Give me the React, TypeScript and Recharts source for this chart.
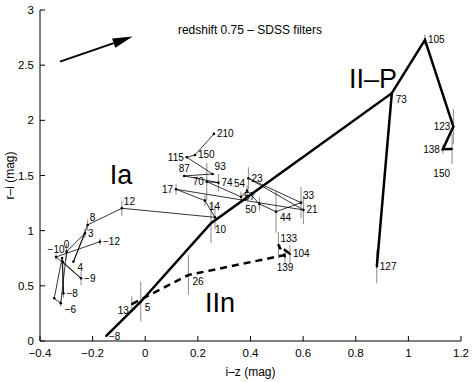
import {
  ScatterChart,
  Scatter,
  XAxis,
  YAxis,
  ErrorBar,
  ReferenceLine,
  ReferenceDot,
} from "recharts";

const FONT = "'Liberation Sans', Arial, Helvetica, sans-serif";

const xTicks = [-0.4, -0.2, 0, 0.2, 0.4, 0.6, 0.8, 1, 1.2];
const yTicks = [0, 0.5, 1, 1.5, 2, 2.5, 3];

// SN Ia track (thin line)
const iaX = [
  -0.172, -0.339, -0.244, -0.314, -0.311, -0.316, -0.346, -0.321, -0.299, -0.229,
  -0.273, -0.219, -0.089, 0.265, 0.227, 0.117, 0.601, 0.392, 0.592, 0.497,
  0.434, 0.387, 0.364, 0.234, 0.278, 0.148, 0.256, 0.158, 0.189, 0.261,
];
const iaY = [
  0.9, 0.762, 0.568, 0.719, 0.432, 0.752, 0.387, 0.342, 0.81, 0.976,
  0.719, 1.052, 1.203, 1.121, 1.272, 1.375, 1.188, 1.475, 1.254, 1.172,
  1.242, 1.363, 1.306, 1.444, 1.435, 1.496, 1.514, 1.665, 1.686, 1.877,
];
const iaErr = [
  0.03, 0.03, 0.06, 0, 0.04, 0, 0, 0.03, 0.07, 0.04,
  0, 0.05, 0.07, 0.11, 0.05, 0.05, 0.13, 0.1, 0.14, 0.19,
  0.06, 0.05, 0.05, 0.17, 0.08, 0, 0, 0, 0, 0,
];
const iaLabels = [
  "−12", "−10", "−9", "", "−8", "", "", "−6", "0", "3",
  "4", "8", "12", "", "14", "17", "21", "23", "33", "44",
  "50", "54", "57", "70", "74", "87", "93", "115", "150", "210",
];

// SN II-P track (thick line)
const iipX = [-0.149, -0.017, 0.25, 0.937, 1.063, 1.171, 1.131, 1.166];
const iipY = [0.045, 0.356, 1.067, 2.246, 2.729, 1.943, 1.738, 1.74];
const iipErr = [0, 0.18, 0.18, 0, 0.05, 0.16, 0.04, 0.14];
const iipLabels = ["−8", "5", "10", "73", "105", "123", "138", "150"];

// second II-P branch
const iip2X = [0.937, 0.88];
const iip2Y = [2.246, 0.674];
const iip2Err = [0, 0.15];
const iip2Labels = ["", "127"];

// SN IIn track (thick dashed)
const iinX = [-0.051, 0.164, 0.55, 0.506, 0.531];
const iinY = [0.335, 0.598, 0.789, 0.87, 0.764];
const iinErr = [0.07, 0.18, 0.08, 0.12, 0.07];
const iinLabels = ["13", "26", "104", "133", "139"];

// label placement, per point
const iaLabelPos = [
  "r", "t", "r", "", "r", "", "", "br", "t", "r",
  "br", "tr", "tr", "", "br", "l", "r", "r", "tr", "br",
  "bl", "tl", "r", "l", "r", "t", "tr", "l", "r", "r",
];
const iipLabelPos = ["r", "br", "br", "br", "r", "l", "l", "low"];
const iip2LabelPos = ["", "r"];
const iinLabelPos = ["bl", "br", "r", "tr", "b"];

const OFFSETS: Record<string, [number, number, string]> = {
  r: [3, 0, "start"],
  l: [-3, 0, "end"],
  t: [0, -7, "middle"],
  b: [0, 11, "middle"],
  tr: [2, -7, "start"],
  br: [4, 6, "start"],
  tl: [-2, -7, "end"],
  bl: [-3, 6, "end"],
  low: [-2, 24, "end"],
};

const table = (xs: number[], ys: number[], errs: number[], labels: string[]) =>
  xs.map((x, i) => ({ x, y: ys[i], err: errs[i], label: labels[i], i }));

const iaData = table(iaX, iaY, iaErr, iaLabels);
const iipData = table(iipX, iipY, iipErr, iipLabels);
const iip2Data = table(iip2X, iip2Y, iip2Err, iip2Labels);
const iinData = table(iinX, iinY, iinErr, iinLabels);

const fmt = (v: number) => String(v).replace("-", "−");

function pointShape(pos: string[], r: number) {
  return (props: any) => {
    const { cx, cy, payload } = props;
    const off = OFFSETS[pos[payload.i]];
    return (
      <g>
        {r > 0 && <circle cx={cx} cy={cy} r={r} fill="#000" />}
        {off && payload.label && (
          <text
            x={cx + off[0]}
            y={cy + off[1]}
            textAnchor={off[2] as any}
            dominantBaseline="central"
            fontSize={10}
            fill="#000"
          >
            {payload.label}
          </text>
        )}
      </g>
    );
  };
}

const TICK = 5;

function BottomTick({ x, y, payload }: any) {
  const axisY = y - 12;
  return (
    <g>
      <line x1={x} x2={x} y1={axisY} y2={axisY - TICK} stroke="#000" />
      <text x={x} y={y} textAnchor="middle" dominantBaseline="central" fontSize={11.5} fill="#000">
        {fmt(payload.value)}
      </text>
    </g>
  );
}

function LeftTick({ x, y, payload }: any) {
  const axisX = x + 6;
  return (
    <g>
      <line x1={axisX} x2={axisX + TICK} y1={y} y2={y} stroke="#000" />
      <text x={x} y={y} textAnchor="end" dominantBaseline="central" fontSize={11.5} fill="#000">
        {fmt(payload.value)}
      </text>
    </g>
  );
}

function TopTick({ x, y }: any) {
  return <line x1={x} x2={x} y1={y} y2={y + TICK} stroke="#000" />;
}

function RightTick({ x, y }: any) {
  return <line x1={x} x2={x - TICK} y1={y} y2={y} stroke="#000" />;
}

function Arrow(props: any) {
  const { x1, y1, x2, y2 } = props;
  const a = Math.atan2(y2 - y1, x2 - x1);
  const len = 20;
  const w = 5;
  const bx = x2 - len * Math.cos(a);
  const by = y2 - len * Math.sin(a);
  const px = -Math.sin(a) * w;
  const py = Math.cos(a) * w;
  return (
    <g>
      <line x1={x1} y1={y1} x2={bx} y2={by} stroke="#000" strokeWidth={2} />
      <polygon points={`${x2},${y2} ${bx + px},${by + py} ${bx - px},${by - py}`} fill="#000" />
    </g>
  );
}

export default function App() {
  return (
    <div style={{ position: "absolute", left: 0, top: 0, fontFamily: FONT, background: "#fff" }}>
      <ScatterChart width={473} height={382} margin={{ top: 10, right: 12, bottom: 0, left: 0 }}>
        <XAxis
          type="number"
          dataKey="x"
          domain={[-0.4, 1.2]}
          ticks={xTicks}
          allowDataOverflow
          height={41}
          tickSize={0}
          tickMargin={12}
          tickLine={false}
          tick={<BottomTick />}
          axisLine={{ stroke: "#000" }}
          label={{ value: "i–z (mag)", position: "insideBottom", offset: 6, fontSize: 12, fill: "#000" }}
        />
        <XAxis
          xAxisId="top"
          orientation="top"
          type="number"
          domain={[-0.4, 1.2]}
          ticks={xTicks}
          allowDataOverflow
          height={0}
          tickSize={0}
          tickMargin={0}
          tickLine={false}
          tick={<TopTick />}
          axisLine={{ stroke: "#000" }}
        />
        <YAxis
          type="number"
          dataKey="y"
          domain={[0, 3]}
          ticks={yTicks}
          allowDataOverflow
          width={40}
          tickSize={0}
          tickMargin={6}
          tickLine={false}
          tick={<LeftTick />}
          axisLine={{ stroke: "#000" }}
          label={{
            value: "r–i (mag)",
            angle: -90,
            position: "insideLeft",
            offset: 10,
            fontSize: 12,
            fill: "#000",
            style: { textAnchor: "middle" },
          }}
        />
        <YAxis
          yAxisId="r"
          orientation="right"
          type="number"
          domain={[0, 3]}
          ticks={yTicks}
          allowDataOverflow
          width={0}
          tickSize={0}
          tickMargin={0}
          tickLine={false}
          tick={<RightTick />}
          axisLine={{ stroke: "#000" }}
        />

        <Scatter
          data={iaData}
          line={{ stroke: "#000", strokeWidth: 0.8 }}
          lineType="joint"
          fill="#000"
          shape={pointShape(iaLabelPos, 1.3)}
          isAnimationActive={false}
        >
          <ErrorBar dataKey="err" direction="y" width={0} stroke="#8a8a8a" strokeWidth={1} />
        </Scatter>
        <Scatter
          data={iinData}
          line={{ stroke: "#000", strokeWidth: 2.5, strokeDasharray: "7 5" }}
          lineType="joint"
          fill="#000"
          shape={pointShape(iinLabelPos, 1)}
          isAnimationActive={false}
        >
          <ErrorBar dataKey="err" direction="y" width={0} stroke="#8a8a8a" strokeWidth={1} />
        </Scatter>
        <Scatter
          data={iip2Data}
          line={{ stroke: "#000", strokeWidth: 2.5 }}
          lineType="joint"
          fill="#000"
          shape={pointShape(iip2LabelPos, 1)}
          isAnimationActive={false}
        >
          <ErrorBar dataKey="err" direction="y" width={0} stroke="#8a8a8a" strokeWidth={1} />
        </Scatter>
        <Scatter
          data={iipData}
          line={{ stroke: "#000", strokeWidth: 2.5 }}
          lineType="joint"
          fill="#000"
          shape={pointShape(iipLabelPos, 1)}
          isAnimationActive={false}
        >
          <ErrorBar dataKey="err" direction="y" width={0} stroke="#8a8a8a" strokeWidth={1} />
        </Scatter>

        <ReferenceLine
          segment={[
            { x: -0.324, y: 2.532 },
            { x: -0.048, y: 2.759 },
          ]}
          shape={(p: any) => <Arrow {...p} />}
        />
        <ReferenceDot
          x={0.398}
          y={2.82}
          r={1}
          fill="none"
          stroke="none"
          label={{ value: "redshift 0.75 – SDSS filters", position: "center", fontSize: 12, fill: "#000" }}
        />
        <ReferenceDot x={-0.092} y={1.514} r={1} fill="none" stroke="none"
          label={{ value: "Ia", position: "center", fontSize: 27, fill: "#000" }} />
        <ReferenceDot x={0.866} y={2.384} r={1} fill="none" stroke="none"
          label={{ value: "II–P", position: "center", fontSize: 27, fill: "#000" }} />
        <ReferenceDot x={0.284} y={0.354} r={1} fill="none" stroke="none"
          label={{ value: "IIn", position: "center", fontSize: 27, fill: "#000" }} />
      </ScatterChart>
    </div>
  );
}
